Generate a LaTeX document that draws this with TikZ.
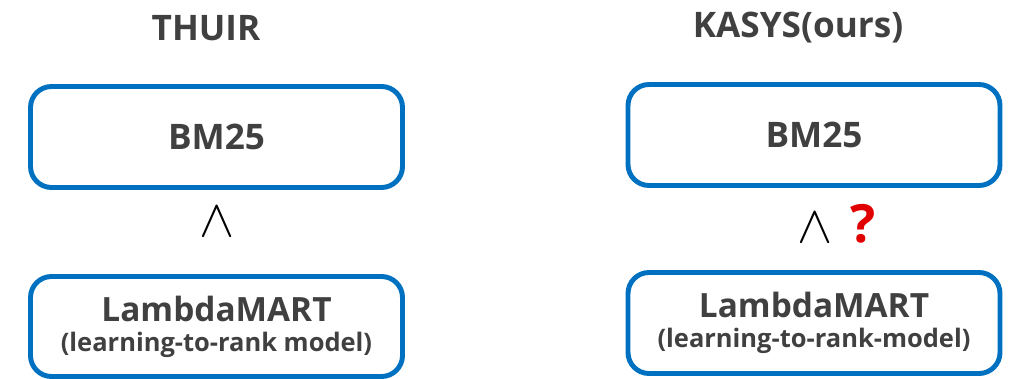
\documentclass[tikz,border=0pt]{standalone}
\usepackage{fix-cm}
\usepackage{fontspec}
\setmainfont{Open Sans}
\usetikzlibrary{positioning}
\definecolor{boxblue}{HTML}{0070C0}
\definecolor{txtgray}{HTML}{404040}
\definecolor{qred}{HTML}{E00000}

\begin{document}
\begin{tikzpicture}[
		method/.style={draw=boxblue, line width=2.8pt, rounded corners=0.42cm, text=txtgray, font=\bfseries, align=center, minimum width=7.44cm},
		title/.style={text=txtgray, font=\fontsize{20}{24}\selectfont\bfseries},
		better/.style={font=\fontsize{30}{30}\selectfont}
	]
		%%%%% START %%%%%
		\useasboundingbox (0, 0) rectangle (20.3, 7.56);
		
		% THUIR
		\node[title] (thuir) at (4.12, 7.0) {THUIR};
		\node[method, minimum height=2.02cm] (bmL) at (4.33, 4.82) {\fontsize{20}{24}\selectfont\bfseries BM25};
		\node[better] (geL) at (4.34, 3.12) {$\wedge$};
		\node[method, minimum height=2.0cm] (lmL) at (4.33, 1.03) {\fontsize{19}{23}\selectfont\bfseries LambdaMART\\[5pt] \fontsize{14.5}{17}\selectfont\bfseries (learning-to-rank model)};
		
		% KASYS
		\node[title] (kasys) at (15.96, 7.0) {KASYS(ours)};
		\node[method, minimum height=2.02cm] (bmR) at (16.28, 4.86) {\fontsize{20}{24}\selectfont\bfseries BM25};
		\node[better] (geR) at (16.3, 3.0) {$\wedge$};
		\node[text=qred, font=\fontsize{30}{30}\selectfont\bfseries] (ask) at (17.26, 3.08) {?};
		\node[method, minimum height=2.02cm] (lmR) at (16.28, 1.1) {\fontsize{19}{23}\selectfont\bfseries LambdaMART\\[5pt] \fontsize{14.5}{17}\selectfont\bfseries (learning-to-rank-model)};
		%%%%% END %%%%%
	\end{tikzpicture}
\end{document}
